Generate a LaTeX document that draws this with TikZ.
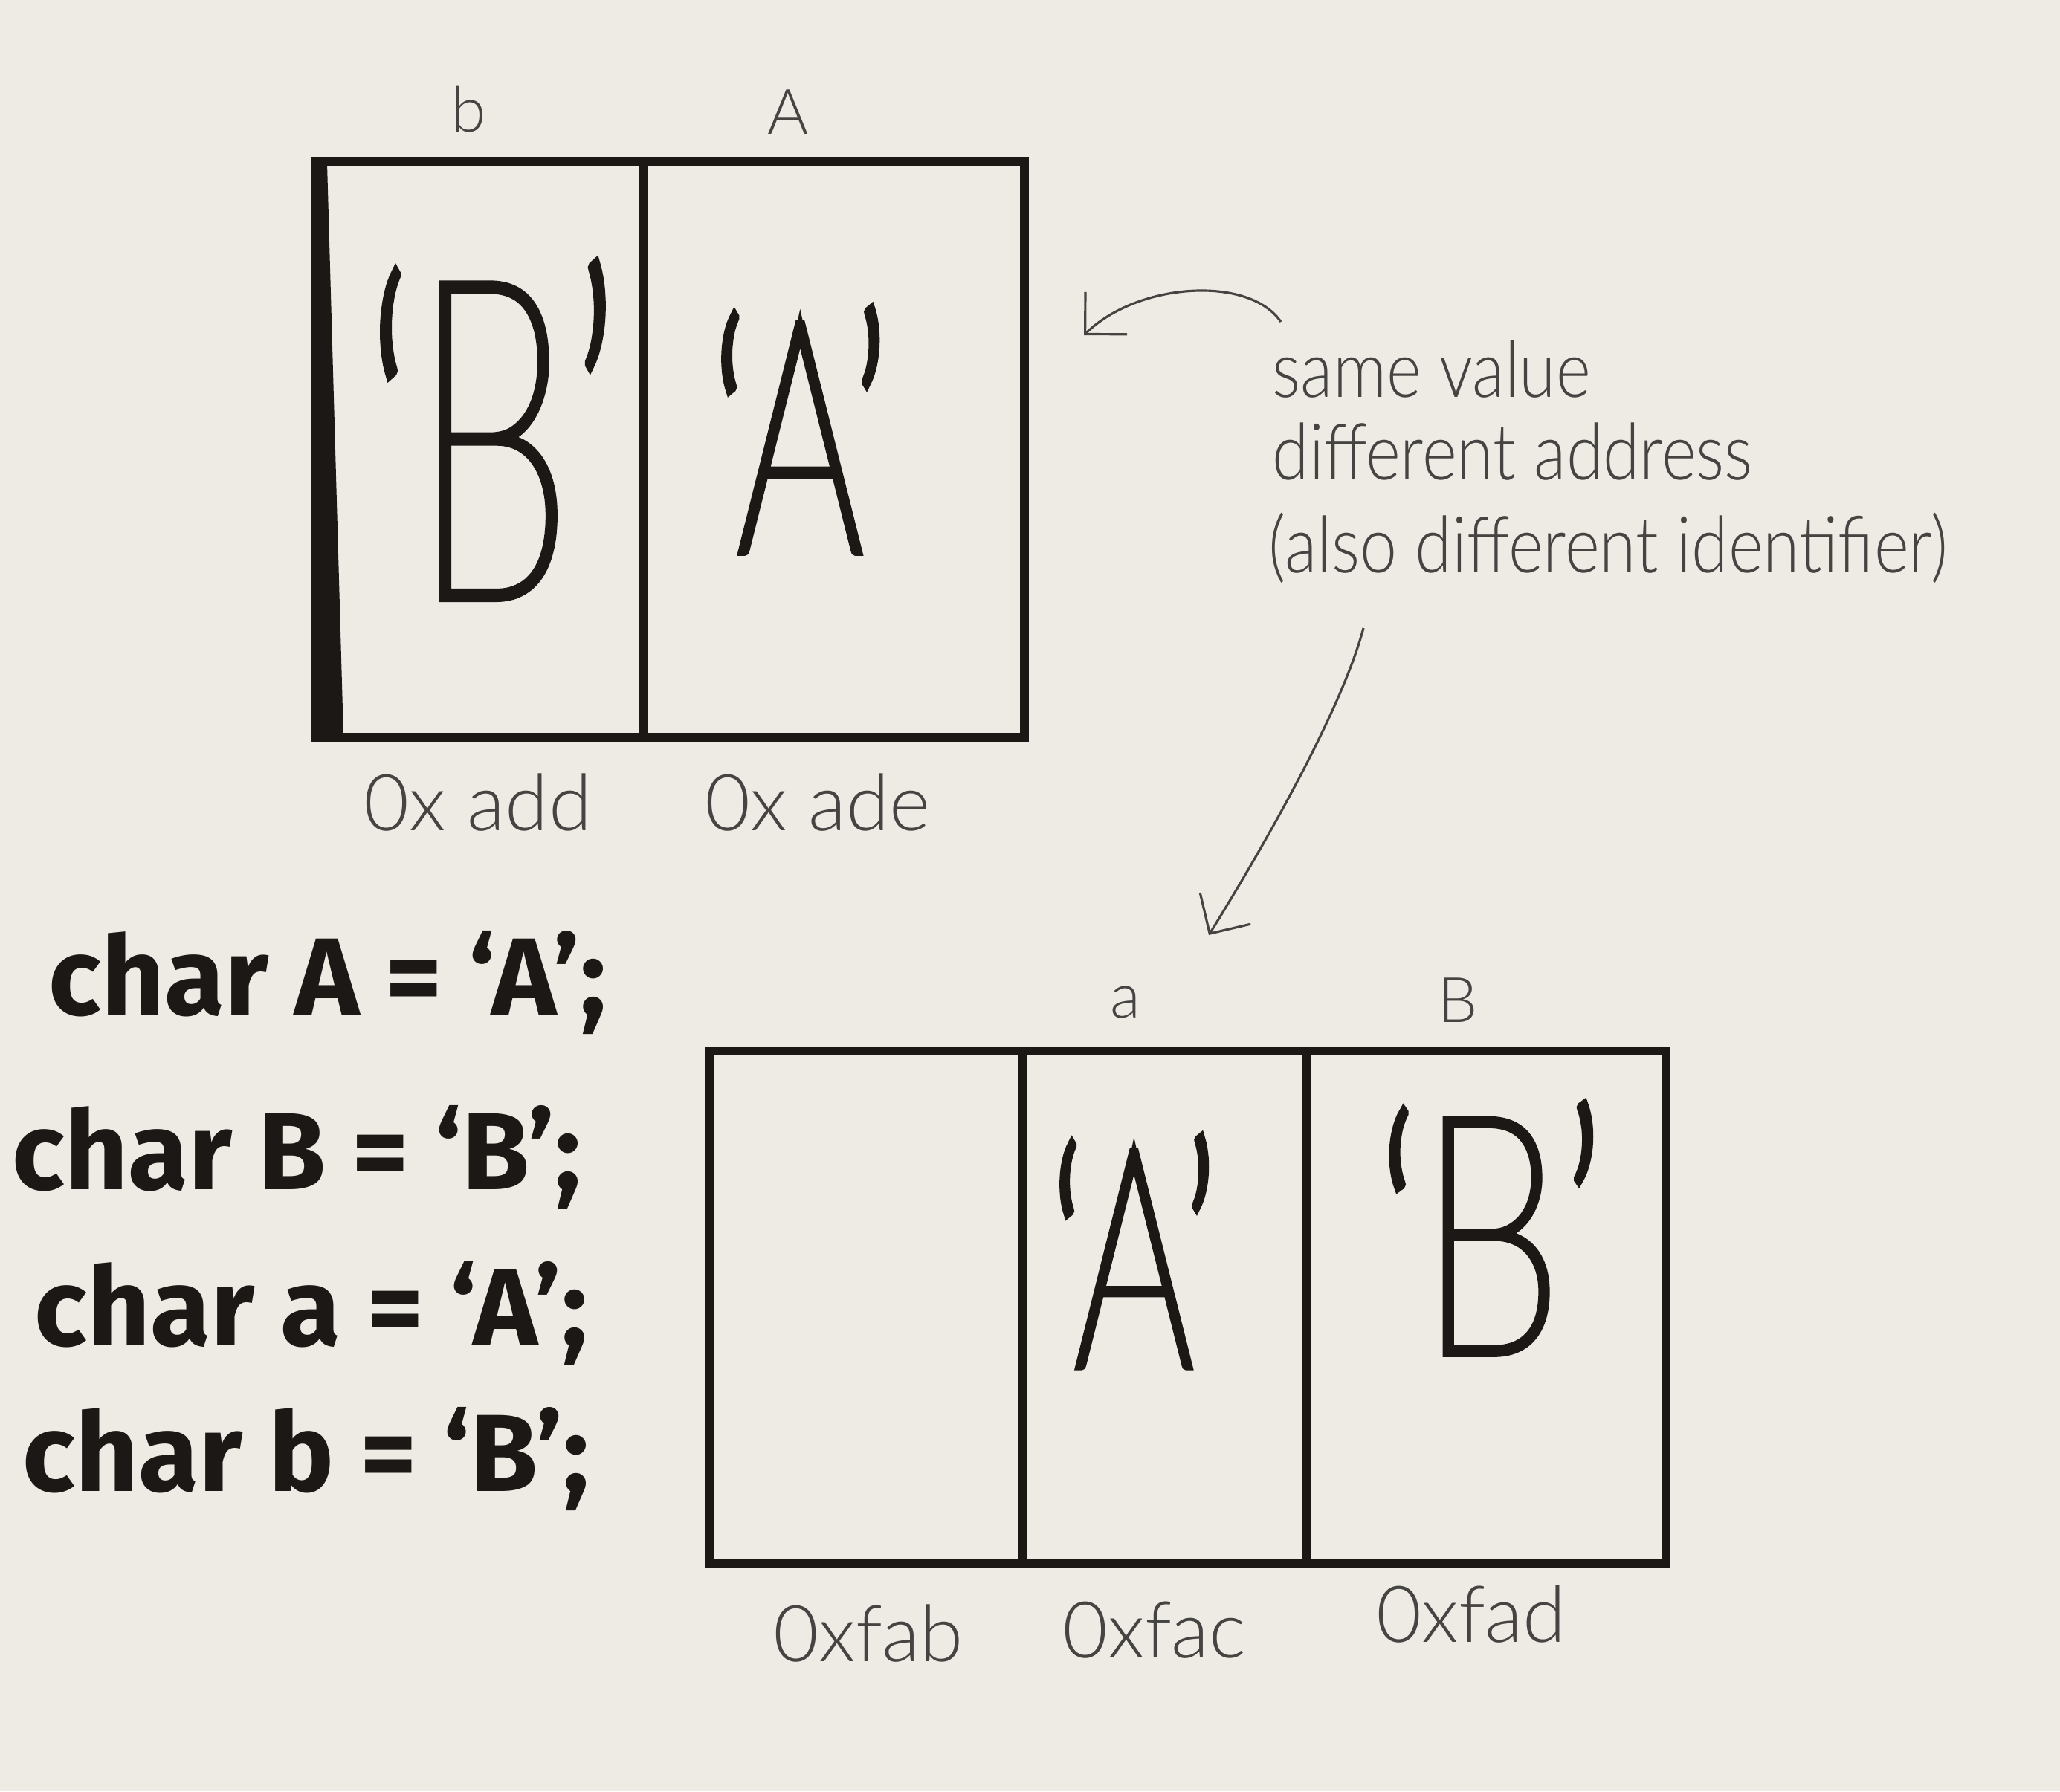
\documentclass[tikz,border=0pt]{standalone}
\usepackage{fontspec}
\usepackage{graphicx}
\usetikzlibrary{arrows.meta,calc}
\newfontfamily\codef{Fira Sans}
\IfFontExistsTF{Lato Light}{\newfontfamily\lightf{Lato Light}}{%
  \IfFontExistsTF{Open Sans Light}{\newfontfamily\lightf{Open Sans Light}}{\newfontfamily\lightf{Lato}}}
\IfFontExistsTF{Lato Hairline}{\def\thinname{Lato Hairline}}{%
  \IfFontExistsTF{Lato Thin}{\def\thinname{Lato Thin}}{\def\thinname{Lato}}}
\newfontfamily\bigB{\thinname}[FakeStretch=0.56,FakeBold=2.0]
\newfontfamily\bigA{\thinname}[FakeStretch=0.6,FakeBold=2.7]
\newfontfamily\bigBb{\thinname}[FakeStretch=0.68,FakeBold=2.6]
\definecolor{paper}{RGB}{237,235,228}
\definecolor{ink}{RGB}{28,24,22}
\definecolor{pencil}{RGB}{70,68,66}
\begin{document}
\begin{tikzpicture}[
  cellbox/.style={draw=ink, line width=1.2mm, inner sep=0pt},
  bigletter/.style={text=ink, inner sep=0pt, anchor=base},
  addr/.style={text=pencil, inner sep=0pt, anchor=base, font=\lightf\fontsize{30}{30}\selectfont},
  varname/.style={text=pencil, inner sep=0pt, anchor=base, font=\lightf\fontsize{24}{24}\selectfont},
  codeline/.style={text=ink, inner sep=0pt, anchor=base west, font=\codef\bfseries\fontsize{42}{42}\selectfont},
  note/.style={text=pencil, inner sep=0pt, anchor=base west, font=\lightf\fontsize{30}{30}\selectfont},
  pencilarrow/.style={draw=pencil, line width=0.9pt, -{Straight Barb[length=4mm,width=8mm]}}
]
\fill[paper] (0,0) rectangle (27.71,-24.10);
\useasboundingbox (0,0) rectangle (27.71,-24.10);

% top memory block
\node[cellbox, minimum width=4.42cm, minimum height=7.75cm] (tb) at (6.45,-6.045) {};
\node[cellbox, minimum width=5.12cm, minimum height=7.75cm] (ta) at (11.22,-6.045) {};
\fill[ink] (4.18,-2.2) -- (4.40,-2.2) -- (4.62,-9.9) -- (4.18,-9.9) -- cycle;
% bottom memory block
\node[cellbox, minimum width=4.21cm, minimum height=6.89cm] (bf) at (11.645,-17.585) {};
\node[cellbox, minimum width=3.83cm, minimum height=6.89cm] (bc) at (15.665,-17.585) {};
\node[cellbox, minimum width=4.83cm, minimum height=6.89cm] (bd) at (19.995,-17.585) {};

% values
\node[bigletter] (vb1) at (6.62,-8.04) {\bigB\fontsize{171}{171}\selectfont ‘B’};
\node[bigletter] (va1) at (10.76,-7.42) {\bigA\fontsize{124}{124}\selectfont ‘A’};
\node[bigletter] (va2) at (15.25,-18.38) {\bigA\fontsize{117}{117}\selectfont ‘A’};
\node[bigletter] (vb2) at (20.05,-18.20) {\bigBb\fontsize{127}{127}\selectfont ‘B’};

% identifiers
\node[varname] (nb) at (6.31,-1.77) {b};
\node[varname] (nA) at (10.6,-1.80) {A};
\node[varname] (na) at (15.14,-13.69) {a};
\node[varname] (nB) at (19.61,-13.75) {B};

% addresses
\node[addr] (add) at (6.43,-11.17) {0x add};
\node[addr] (ade) at (11.0,-11.17) {0x ade};
\node[addr] (fab) at (11.68,-22.35) {0xfab};
\node[addr] (fac) at (15.53,-22.30) {0xfac};
\node[addr] (fad) at (19.79,-22.09) {0xfad};

% note
\node[note] (note1) at (17.11,-5.34) {\scalebox{0.85}[1]{same value}};
\node[note] (note2) at (17.11,-6.45) {\scalebox{0.85}[1]{different address}};
\node[note] (note3) at (17.06,-7.70) {\scalebox{0.85}[1]{(also different identifier)}};

% code
\node[codeline] (c1) at (0.65,-13.65) {char A = ‘A’;};
\node[codeline] (c2) at (0.16,-16.00) {char B = ‘B’;};
\node[codeline] (c3) at (0.46,-18.10) {char a = ‘A’;};
\node[codeline] (c4) at (0.30,-20.06) {char b = ‘B’;};

% arrows
\coordinate (a1s) at (17.23,-4.33);
\coordinate (a1e) at (14.58,-4.51);
\draw[pencilarrow] (a1s) .. controls (16.8,-3.7) and (15.3,-3.8) .. (a1e);
\coordinate (a2s) at (18.34,-8.45);
\coordinate (a2e) at (16.26,-12.58);
\draw[pencilarrow] (a2s) .. controls (18.03,-9.62) and (16.88,-11.58) .. (a2e);
\end{tikzpicture}
\end{document}
